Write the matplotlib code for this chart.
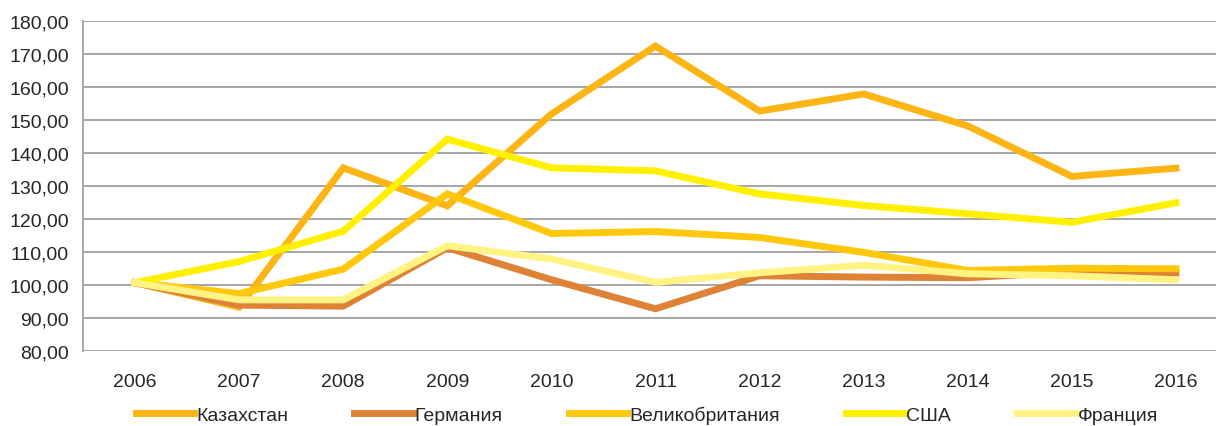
import matplotlib
matplotlib.use("Agg")
import matplotlib.pyplot as plt
from matplotlib.ticker import FuncFormatter, MultipleLocator

# годы и индексы по странам (2006 = 100)
years = ["2006", "2007", "2008", "2009", "2010", "2011", "2012", "2013", "2014", "2015", "2016"]
kazakhstan = [100.7, 93.3, 135.5, 124.0, 151.8, 172.4, 152.7, 157.9, 148.2, 132.9, 135.4]
germany = [100.7, 93.9, 93.6, 111.3, 101.6, 92.8, 102.8, 102.4, 102.2, 104.0, 103.6]
britain = [100.7, 97.4, 104.8, 127.6, 115.6, 116.2, 114.4, 109.9, 104.4, 105.1, 104.9]
usa = [100.7, 107.1, 116.3, 144.2, 135.5, 134.6, 127.6, 124.1, 121.6, 119.0, 124.9]
france = [100.7, 95.5, 95.5, 111.9, 107.9, 100.8, 103.7, 106.0, 103.4, 102.8, 101.6]
names = ["Казахстан", "Германия", "Великобритания", "США", "Франция"]
colors = ["#FDB515", "#DE8236", "#FFC80C", "#FFF000", "#FFF383"]

plt.rcParams["font.family"] = ["Liberation Sans", "DejaVu Sans"]

fig = plt.figure(figsize=(12.16, 4.27), dpi=100)
ax = fig.add_axes([83 / 1216, 1 - 352 / 427, 1145 / 1216, 330 / 427])

x = range(len(years))
for vals, name, c in zip([kazakhstan, germany, britain, usa, france], names, colors):
    ax.plot(x, vals, color=c, lw=5, label=name, solid_joinstyle="miter")

ax.set_xlim(-0.5, len(years) - 0.5)
ax.set_ylim(80, 180)
ax.yaxis.set_major_locator(MultipleLocator(10))
ax.yaxis.set_major_formatter(FuncFormatter(lambda v, p: f"{v:.2f}".replace(".", ",")))
ax.set_xticks(list(x))
ax.set_xticklabels(years)
ax.grid(axis="y", color="#A6A6A6", lw=1.4)
ax.set_axisbelow(True)
for s in ["top", "right", "bottom"]:
    ax.spines[s].set_visible(False)
ax.spines["left"].set_color("#A6A6A6")
ax.spines["left"].set_linewidth(1.4)
ax.tick_params(axis="both", length=0, labelsize=14, labelcolor="#262626")
ax.tick_params(axis="x", pad=16)
ax.tick_params(axis="y", pad=10)

fig.legend(loc="center", bbox_to_anchor=(0.532, 0.026), ncol=5, frameon=False,
           fontsize=14, handlelength=3.0, handletextpad=0.1, columnspacing=3.4,
           labelcolor="#262626", borderpad=0)

fig.savefig("out.png", dpi=100)
